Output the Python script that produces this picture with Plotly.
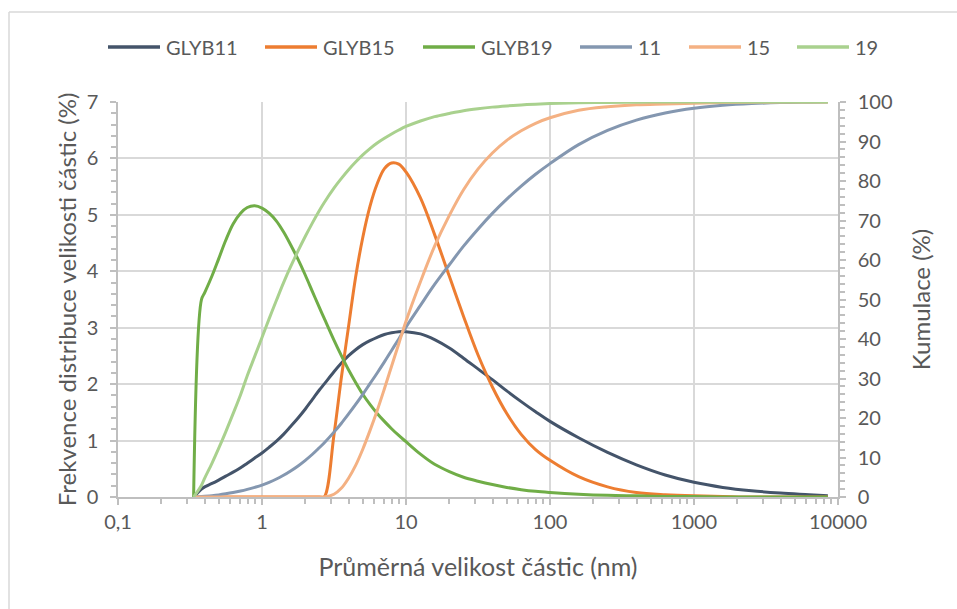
import plotly.graph_objects as go

# ---------------- data ----------------
sizes = [0.335, 0.38, 0.4, 0.45, 0.5, 0.56, 0.63, 0.71, 0.79, 0.89,
         1, 1.12, 1.26, 1.41, 1.58, 1.78, 2, 2.24, 2.51, 2.7,
         3.16, 3.55, 3.98, 4.47, 5.01, 5.62, 6.31, 7.08, 7.94, 8.91,
         10, 12.6, 15.8, 20, 25.1, 31.6, 39.8, 50.1, 63.1, 79.4,
         100, 158, 251, 398, 631, 1000, 1585, 2512, 3981, 6310, 8500]

glyb11 = [0, 0.14, 0.18, 0.24, 0.30, 0.37, 0.44, 0.52, 0.60, 0.69,
          0.78, 0.88, 0.99, 1.11, 1.25, 1.40, 1.56, 1.73, 1.90, 2.0,
          2.22, 2.37, 2.50, 2.61, 2.70, 2.77, 2.83, 2.88, 2.91, 2.93,
          2.93, 2.89, 2.79, 2.64, 2.46, 2.27, 2.08, 1.88, 1.69, 1.51,
          1.34, 1.05, 0.79, 0.57, 0.39, 0.26, 0.17, 0.11, 0.07, 0.04, 0.02]
glyb15 = [0, 0, 0, 0, 0, 0, 0, 0, 0, 0,
          0, 0, 0, 0, 0, 0, 0, 0, 0, 0,
          1.1, 2.1, 3.0, 3.9, 4.6, 5.15, 5.55, 5.82, 5.92, 5.9,
          5.76, 5.3, 4.65, 3.91, 3.2, 2.52, 1.95, 1.48, 1.11, 0.84,
          0.65, 0.36, 0.18, 0.08, 0.04, 0.02, 0.01, 0, 0, 0, 0]
glyb19 = [0, 3.5, 3.62, 3.92, 4.22, 4.55, 4.84, 5.03, 5.13, 5.16,
          5.12, 5.03, 4.89, 4.70, 4.47, 4.21, 3.93, 3.64, 3.35, 3.17,
          2.78, 2.51, 2.26, 2.03, 1.82, 1.64, 1.48, 1.34, 1.21, 1.09,
          0.98, 0.76, 0.58, 0.45, 0.35, 0.28, 0.22, 0.17, 0.13, 0.1,
          0.08, 0.05, 0.03, 0.02, 0.01, 0.01, 0, 0, 0, 0, 0]

cum11 = [0, 0.12, 0.18, 0.35, 0.54, 0.8, 1.12, 1.51, 1.92, 2.43,
         3.0, 3.7, 4.55, 5.5, 6.6, 7.87, 9.29, 10.82, 12.54, 13.67,
         16.42, 18.62, 20.96, 23.43, 26.0, 28.7, 31.4, 34.2, 37.1, 40.0,
         43.0, 48.5, 53.8, 58.8, 63.5, 67.8, 71.8, 75.4, 78.7, 81.7,
         84.4, 89.2, 92.8, 95.4, 97.2, 98.4, 99.15, 99.6, 99.85, 99.95, 100]
cum15 = [0, 0, 0, 0, 0, 0, 0, 0, 0, 0,
         0, 0, 0, 0, 0, 0, 0, 0, 0, 0,
         0.7, 2.2, 4.7, 8.0, 12.1, 16.8, 21.9, 27.4, 33.1, 38.8,
         44.5, 54.5, 63.5, 71.3, 77.8, 83.0, 87.1, 90.3, 92.7, 94.6,
         96.0, 97.9, 98.8, 99.3, 99.5, 99.7, 99.85, 99.95, 100, 100, 100]
cum19 = [0, 3.0, 4.8, 8.6, 12.3, 16.5, 21.1, 25.9, 30.7, 35.6,
         40.4, 45.1, 49.8, 54.2, 58.3, 62.3, 66.0, 69.4, 72.6, 74.5,
         78.2, 80.6, 82.8, 84.8, 86.6, 88.2, 89.6, 90.8, 91.9, 92.9,
         93.8, 95.2, 96.3, 97.1, 97.8, 98.3, 98.7, 99.0, 99.25, 99.45,
         99.6, 99.8, 99.9, 99.95, 100, 100, 100, 100, 100, 100, 100]

x_tickvals = [0.1, 1, 10, 100, 1000, 10000]
x_ticktext = ["0,1", "1", "10", "100", "1000", "10000"]

series = [
    ("GLYB11", glyb11, "#44546A", "y"),
    ("GLYB15", glyb15, "#ED7D31", "y"),
    ("GLYB19", glyb19, "#70AD47", "y"),
    ("11", cum11, "#8497B0", "y2"),
    ("15", cum15, "#F4B183", "y2"),
    ("19", cum19, "#A9D18E", "y2"),
]

# ---------------- figure ----------------
W, H = 957, 609
ML, MR, MT, MB = 118, 119, 102, 112
PW, PH = W - ML - MR, H - MT - MB
FONT = "Lato"
TXT = "#595959"
GRID = "#D9D9D9"
AXL = "#BFBFBF"


def px_x(px):
    return (px - ML) / PW


def px_y(py):
    return (H - MB - py) / PH


fig = go.Figure()
for name, vals, col, ax in series:
    fig.add_trace(go.Scatter(
        x=sizes, y=vals, name=name, yaxis=ax, mode="lines",
        line=dict(color=col, width=3, shape="spline", smoothing=1.0),
        showlegend=False,
    ))

# custom legend (Excel-style long line samples)
leg_x = [108, 265, 423, 580, 689, 797]
shapes = []
annotations = []
for (name, _, col, _), lx in zip(series, leg_x):
    shapes.append(dict(type="line", xref="paper", yref="paper",
                       x0=px_x(lx), x1=px_x(lx + 52), y0=px_y(47), y1=px_y(47),
                       line=dict(color=col, width=3.5)))
    annotations.append(dict(xref="paper", yref="paper", x=px_x(lx + 56), y=px_y(47),
                            text=name, showarrow=False, xanchor="left", yanchor="middle",
                            font=dict(family=FONT, size=20, color=TXT)))

# chart-area border (top and left visible)
shapes.append(dict(type="line", xref="paper", yref="paper", x0=px_x(9), x1=px_x(W + 5),
                   y0=px_y(12), y1=px_y(12), line=dict(color=GRID, width=1.5)))
shapes.append(dict(type="line", xref="paper", yref="paper", x0=px_x(9), x1=px_x(9),
                   y0=px_y(12), y1=px_y(H + 5), line=dict(color=GRID, width=1.5)))

tickfont = dict(family=FONT, size=20, color=TXT)
titlefont = dict(family=FONT, size=24, color=TXT)

fig.update_layout(
    width=W, height=H,
    margin=dict(l=ML, r=MR, t=MT, b=MB, autoexpand=False),
    paper_bgcolor="white", plot_bgcolor="white",
    showlegend=False,
    shapes=shapes, annotations=annotations,
    xaxis=dict(
        type="log", range=[-1, 4], tickmode="array", tickvals=x_tickvals, ticktext=x_ticktext,
        showgrid=True, gridcolor=GRID, gridwidth=1.5,
        showline=True, linecolor=AXL, linewidth=1.5,
        ticks="outside", ticklen=6, tickcolor=AXL, tickwidth=1.5,
        tickfont=tickfont, zeroline=False,
        minor=dict(ticks="outside", ticklen=5, tickcolor=AXL, dtick="D1", showgrid=False),
        title=dict(text="Průměrná velikost částic (nm)", font=dict(family=FONT, size=25, color=TXT),
                   standoff=27),
        automargin=False,
    ),
    yaxis=dict(
        range=[0, 7], dtick=1, tick0=0,
        showgrid=True, gridcolor=GRID, gridwidth=1.5,
        showline=True, linecolor=AXL, linewidth=1.5,
        ticks="outside", ticklen=6, tickcolor=AXL, tickwidth=1.5,
        tickfont=tickfont, zeroline=False, ticklabelstandoff=8,
        minor=dict(ticks="outside", ticklen=5, tickcolor=AXL, dtick=0.2, showgrid=False),
        title=dict(text="Frekvence distribuce velikosti částic (%)", font=titlefont, standoff=3),
        automargin=False,
    ),
    yaxis2=dict(
        overlaying="y", side="right", range=[0, 100], dtick=10, tick0=0,
        showgrid=False, showline=True, linecolor=AXL, linewidth=1.5,
        ticks="outside", ticklen=6, tickcolor=AXL, tickwidth=1.5,
        tickfont=tickfont, zeroline=False, ticklabelstandoff=8,
        minor=dict(ticks="outside", ticklen=5, tickcolor=AXL, dtick=2, showgrid=False),
        title=dict(text="Kumulace (%)", font=titlefont, standoff=22),
        automargin=False,
    ),
)

fig.write_html("out.html")
